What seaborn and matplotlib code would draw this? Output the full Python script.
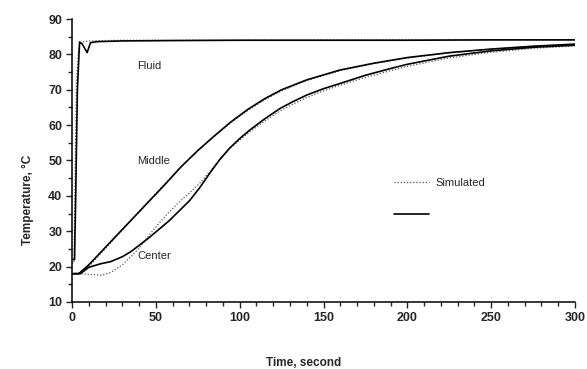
import numpy as np
import pandas as pd
import matplotlib
matplotlib.use("Agg")
import matplotlib.pyplot as plt
import seaborn as sns
from matplotlib.ticker import MultipleLocator
from matplotlib.lines import Line2D

# ---- data ----
fluid_t = [0, 1.5, 2.2, 3.2, 4.5, 6, 9, 11, 15, 30, 60, 100, 150, 200, 250, 300]
fluid_meas = [22, 22, 40, 70, 83.5, 83, 80.5, 83.3, 83.6, 83.8, 83.9, 84, 84, 84, 84.1, 84.1]

fluid_sim_t = [0, 1.2, 1.8, 2.6, 4, 6, 10, 30, 100, 200, 300]
fluid_sim = [21, 21, 45, 72, 82, 83.5, 83.8, 84, 84, 84.1, 84.1]

middle_t = [0, 4, 10, 17, 26, 35, 45, 55, 65, 75, 85, 95, 105, 115, 125, 140, 160, 180,
            200, 225, 250, 275, 300]
middle_meas = [18, 18, 20.5, 24, 28.5, 33, 38, 43, 48.2, 52.8, 57, 61, 64.5, 67.5, 70,
               72.8, 75.6, 77.5, 79.1, 80.5, 81.5, 82.3, 82.9]
middle_sim = [18, 18.2, 20, 23.6, 28.3, 33, 38.2, 43.2, 48.3, 52.8, 56.9, 60.8, 64.2,
              67.2, 69.7, 72.6, 75.4, 77.4, 79.0, 80.4, 81.5, 82.3, 82.9]

center_t = [0, 5, 10, 17, 23, 30, 35, 40, 46.5, 52, 58, 64, 70, 76, 82, 88, 94, 100, 106,
            115, 124, 132, 140, 150, 160, 175, 190, 200, 225, 250, 275, 300]
center_meas = [18, 18, 19.8, 20.8, 21.4, 22.8, 24.2, 26, 28.4, 30.6, 33.0, 35.8, 38.6, 42.2,
               46.3, 50.2, 53.5, 56.2, 58.6, 61.8, 64.7, 66.7, 68.5, 70.3, 71.8, 74.1,
               76.0, 77.2, 79.5, 81.0, 82.0, 82.6]
center_sim = [18, 18, 17.8, 17.6, 18.3, 20.5, 22.8, 25.2, 29.2, 32.3, 35.5, 38.3, 40.8,
              43.5, 46.8, 50.2, 53.3, 55.8, 58.1, 61.2, 64.0, 66.0, 67.8, 69.7, 71.3,
              73.5, 75.4, 76.6, 79.0, 80.6, 81.7, 82.4]

x_ticks = [0, 50, 100, 150, 200, 250, 300]
y_ticks = [10, 20, 30, 40, 50, 60, 70, 80, 90]

sns.set_style("ticks")
plt.rcParams['font.family'] = ['Liberation Sans', 'DejaVu Sans']

fig = plt.figure(figsize=(5.87, 3.69), dpi=100)
ax = fig.add_axes([0.1227, 0.1816, 0.8569, 0.7669])

sim_style = (0, (1, 1.5))
sim_kw = dict(color='#555555', lw=0.9, linestyle=sim_style, ax=ax, estimator=None, sort=False)
meas_kw = dict(color='black', lw=1.2, ax=ax, estimator=None, sort=False)

sns.lineplot(x=fluid_sim_t, y=fluid_sim, **sim_kw)
sns.lineplot(x=middle_t, y=middle_sim, **sim_kw)
sns.lineplot(x=center_t, y=center_sim, **sim_kw)
sns.lineplot(x=fluid_t, y=fluid_meas, **meas_kw)
sns.lineplot(x=middle_t, y=middle_meas, **meas_kw)
sns.lineplot(x=center_t, y=center_meas, **meas_kw)

ax.set_xlim(0, 300)
ax.set_ylim(10, 90)
ax.set_xticks(x_ticks)
ax.set_yticks(y_ticks)
ax.xaxis.set_minor_locator(MultipleLocator(10))
ax.yaxis.set_minor_locator(MultipleLocator(5))
ax.tick_params(axis='both', which='major', direction='out', length=4, width=1,
               labelsize=9, pad=3)
ax.tick_params(axis='both', which='minor', direction='out', length=3, width=1)
for lab in ax.get_xticklabels() + ax.get_yticklabels():
    lab.set_fontweight('bold')
sns.despine(ax=ax)
for s in ['left', 'bottom']:
    ax.spines[s].set_linewidth(1.1)
    ax.spines[s].set_color('black')

ax.set_xlabel('Time, second', fontsize=8.5, fontweight='bold')
ax.set_ylabel('Temperature, °C', fontsize=8.5, fontweight='bold')
ax.xaxis.set_label_coords(0.46, -0.195)
ax.yaxis.set_label_coords(-0.075, 0.36)

ax.text(38.8, 76.7, 'Fluid', fontsize=8, va='center', ha='left')
ax.text(38.8, 49.8, 'Middle', fontsize=8, va='center', ha='left')
ax.text(39.2, 23.0, 'Center', fontsize=8, va='center', ha='left')

handles = [Line2D([], [], color='#555555', lw=0.9, linestyle=sim_style),
           Line2D([], [], color='black', lw=1.2)]
ax.legend(handles, ['Simulated', ''], loc='upper left', bbox_to_anchor=(0.62, 0.475),
          frameon=False, fontsize=8, handlelength=3.2, handletextpad=0.5,
          labelspacing=2.0)

fig.savefig('out.png', dpi=100)
